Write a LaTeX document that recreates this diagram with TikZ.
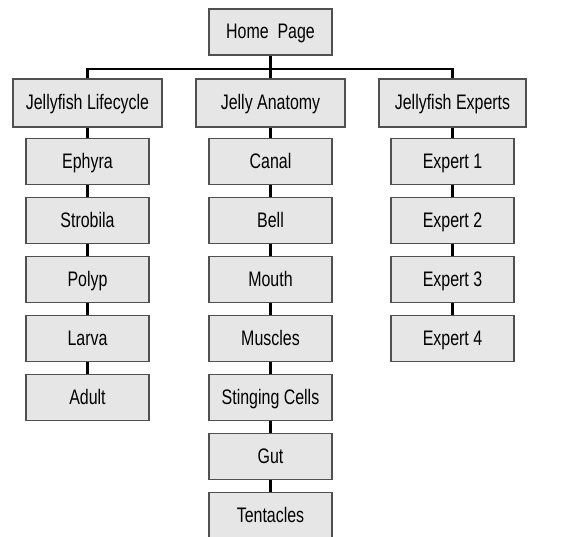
\documentclass[tikz,border=0pt]{standalone}
\usepackage{fontspec}
\setmainfont{Liberation Sans}[FakeStretch=0.76]
\definecolor{boxfill}{HTML}{E6E6E6}
\definecolor{boxline}{HTML}{505050}
\tikzset{
  page/.style={draw=boxline, fill=boxfill, line width=1.2pt, inner sep=0pt,
    minimum width=123pt, minimum height=46pt, text height=15pt, text depth=2pt,
    font=\fontsize{21}{23}\selectfont},
  section/.style={page, minimum width=149pt, minimum height=48pt},
  link/.style={draw=black, line width=2.4pt}
}
\begin{document}
\begin{tikzpicture}[x=1pt,y=-1pt]

        \useasboundingbox (0,0) rectangle (564,536);

        %Home page on top
        \node[page] (home) at (270.5,32) {Home\ \ Page};
        \coordinate (split) at (270.5,69); %where the bar leaves the trunk

        %Three sections
        \node[section] (life) at (87.5,103) {Jellyfish Lifecycle};
        \node[section] (anat) at (270.5,103) {Jelly Anatomy};
        \node[section, minimum width=147pt] (expt) at (452.5,103) {Jellyfish Experts};

        %Lifecycle pages
        \node[page] (ephyra) at (87.5,161.5) {Ephyra};
        \node[page] (strobila) at (87.5,220.5) {Strobila};
        \node[page] (polyp) at (87.5,279.5) {Polyp};
        \node[page] (larva) at (87.5,338.5) {Larva};
        \node[page] (adult) at (87.5,397.5) {Adult};

        %Anatomy pages
        \node[page] (canal) at (270.5,161.5) {Canal};
        \node[page] (bell) at (270.5,220.5) {Bell};
        \node[page] (mouth) at (270.5,279.5) {Mouth};
        \node[page] (muscles) at (270.5,338.5) {Muscles};
        \node[page] (sting) at (270.5,397.5) {Stinging Cells};
        \node[page] (gut) at (270.5,456.5) {Gut};
        \node[page] (tent) at (270.5,515.5) {Tentacles};

        %Expert pages
        \node[page] (exp1) at (452.5,161.5) {Expert 1};
        \node[page] (exp2) at (452.5,220.5) {Expert 2};
        \node[page] (exp3) at (452.5,279.5) {Expert 3};
        \node[page] (exp4) at (452.5,338.5) {Expert 4};

        %Bar from home page to the sections
        \draw[link] (home.south) -- (split);
        \draw[link] (life.north) |- (split) -| (expt.north);
        \draw[link] (split) -- (anat.north);

        %Lifecycle chain
        \draw[link] (life.south) -- (ephyra.north);
        \draw[link] (ephyra.south) -- (strobila.north);
        \draw[link] (strobila.south) -- (polyp.north);
        \draw[link] (polyp.south) -- (larva.north);
        \draw[link] (larva.south) -- (adult.north);

        %Anatomy chain
        \draw[link] (anat.south) -- (canal.north);
        \draw[link] (canal.south) -- (bell.north);
        \draw[link] (bell.south) -- (mouth.north);
        \draw[link] (mouth.south) -- (muscles.north);
        \draw[link] (muscles.south) -- (sting.north);
        \draw[link] (sting.south) -- (gut.north);
        \draw[link] (gut.south) -- (tent.north);

        %Experts chain
        \draw[link] (expt.south) -- (exp1.north);
        \draw[link] (exp1.south) -- (exp2.north);
        \draw[link] (exp2.south) -- (exp3.north);
        \draw[link] (exp3.south) -- (exp4.north);

\end{tikzpicture}
\end{document}
